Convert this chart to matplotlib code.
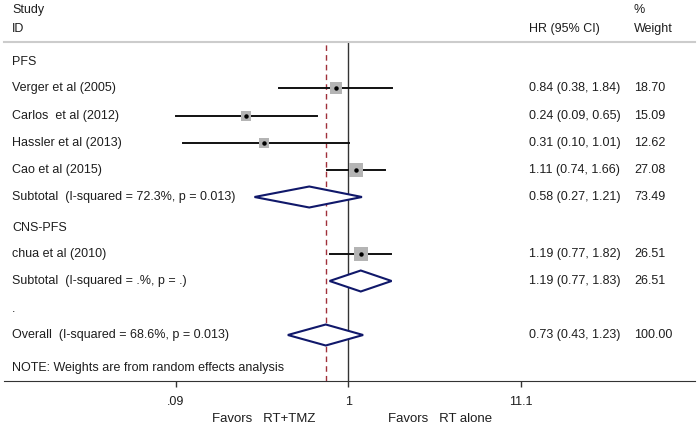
import numpy as np
import matplotlib
matplotlib.use("Agg")
import matplotlib.pyplot as plt
import matplotlib.transforms as mtransforms

plt.rcParams['font.family'] = ['Liberation Sans', 'DejaVu Sans']

# Einzelstudien
studies = ["Verger et al (2005)", "Carlos  et al (2012)", "Hassler et al (2013)",
           "Cao et al (2015)", "chua et al (2010)"]
hr = [0.84, 0.24, 0.31, 1.11, 1.19]
lo = [0.38, 0.09, 0.10, 0.74, 0.77]
hi = [1.84, 0.65, 1.01, 1.66, 1.82]
weights = [18.70, 15.09, 12.62, 27.08, 26.51]
hr_text = ["0.84 (0.38, 1.84)", "0.24 (0.09, 0.65)", "0.31 (0.10, 1.01)",
           "1.11 (0.74, 1.66)", "1.19 (0.77, 1.82)"]
w_text = ["18.70", "15.09", "12.62", "27.08", "26.51"]

# Zusammenfassungen (Rauten)
pooled_labels = ["Subtotal  (I-squared = 72.3%, p = 0.013)",
                 "Subtotal  (I-squared = .%, p = .)",
                 "Overall  (I-squared = 68.6%, p = 0.013)"]
pooled_hr = [0.58, 1.19, 0.73]
pooled_lo = [0.27, 0.77, 0.43]
pooled_hi = [1.21, 1.83, 1.23]
pooled_hr_text = ["0.58 (0.27, 1.21)", "1.19 (0.77, 1.83)", "0.73 (0.43, 1.23)"]
pooled_w_text = ["73.49", "26.51", "100.00"]

groups = ["PFS", "CNS-PFS"]
ticks = [0.09, 1, 11.1]
tick_labels = [".09", "1", "11.1"]

# Zeilenpositionen (Pixel von oben)
study_y = [88, 116, 143, 170, 254]
pooled_y = [197, 281, 335]
group_y = [62, 228]

W, H = 700, 430
fig = plt.figure(figsize=(7, 4.3), dpi=100)
x0, x1, ytop, ybot = 4, 695, 42, 381
ax = fig.add_axes([x0 / W, (H - ybot) / H, (x1 - x0) / W, (ybot - ytop) / H])
ax.set_xscale("log")
px_dec, px_one = 165, 348.3
ax.set_xlim(10 ** ((x0 - px_one) / px_dec), 10 ** ((x1 - px_one) / px_dec))
ax.set_ylim(ybot, ytop)

txt = "#1e1e1e"
navy = "#10186a"
trans = mtransforms.blended_transform_factory(fig.transFigure, ax.transData)
fs = 9

def put(x, y, s, **kw):
    ax.text(x / W, y, s, transform=trans, fontsize=fs, color=txt, va="center",
            clip_on=False, **kw)

# Kopfzeile
put(12, 10, "Study")
put(12, 29, "ID")
put(529, 29, "HR (95% CI)")
put(634, 10, "%")
put(634, 29, "Weight")

for g, y in zip(groups, group_y):
    put(12, y, g)

# Referenzlinien
ax.plot([1, 1], [ybot, ytop], color="#333333", lw=1.0)
ax.plot([pooled_hr[2]] * 2, [ybot, ytop], color="#a0303a", lw=1.0,
        linestyle=(0, (4, 3)))

# Studien
for i in range(len(studies)):
    y = study_y[i]
    ax.plot([lo[i], hi[i]], [y, y], color="#111111", lw=1.4)
    ax.plot(hr[i], y, marker="s", color="#b4b4b4", markersize=1.95 * np.sqrt(weights[i]),
            markeredgewidth=0)
    ax.plot(hr[i], y, marker="o", color="black", markersize=2.2)
    put(12, y, studies[i])
    put(529, y, hr_text[i])
    put(634, y, w_text[i])

# Rauten
for i in range(len(pooled_hr)):
    y = pooled_y[i]
    dx = [pooled_lo[i], pooled_hr[i], pooled_hi[i], pooled_hr[i], pooled_lo[i]]
    dy = [y, y - 10.5, y, y + 10.5, y]
    ax.fill(dx, dy, facecolor="white", edgecolor=navy, lw=1.5, zorder=3)
    put(12, y, pooled_labels[i])
    put(529, y, pooled_hr_text[i])
    put(634, y, pooled_w_text[i])

put(12, 309, ".")
put(12, 368, "NOTE: Weights are from random effects analysis")

# Achsen
for s in ["left", "right"]:
    ax.spines[s].set_visible(False)
ax.spines["top"].set_color("#cccccc")
ax.spines["top"].set_linewidth(1.5)
ax.spines["bottom"].set_color("#333333")
ax.set_yticks([])
ax.set_xticks(ticks)
ax.set_xticklabels(tick_labels)
ax.minorticks_off()
ax.tick_params(axis="x", direction="out", length=4, width=1, labelsize=fs,
               labelcolor=txt, pad=7, color="#333333")

fig.text(264 / W, 1 - 419 / H, "Favors   RT+TMZ", ha="center", va="center",
         fontsize=9.5, color=txt)
fig.text(440 / W, 1 - 419 / H, "Favors   RT alone", ha="center", va="center",
         fontsize=9.5, color=txt)

fig.savefig("out.png", dpi=100)
